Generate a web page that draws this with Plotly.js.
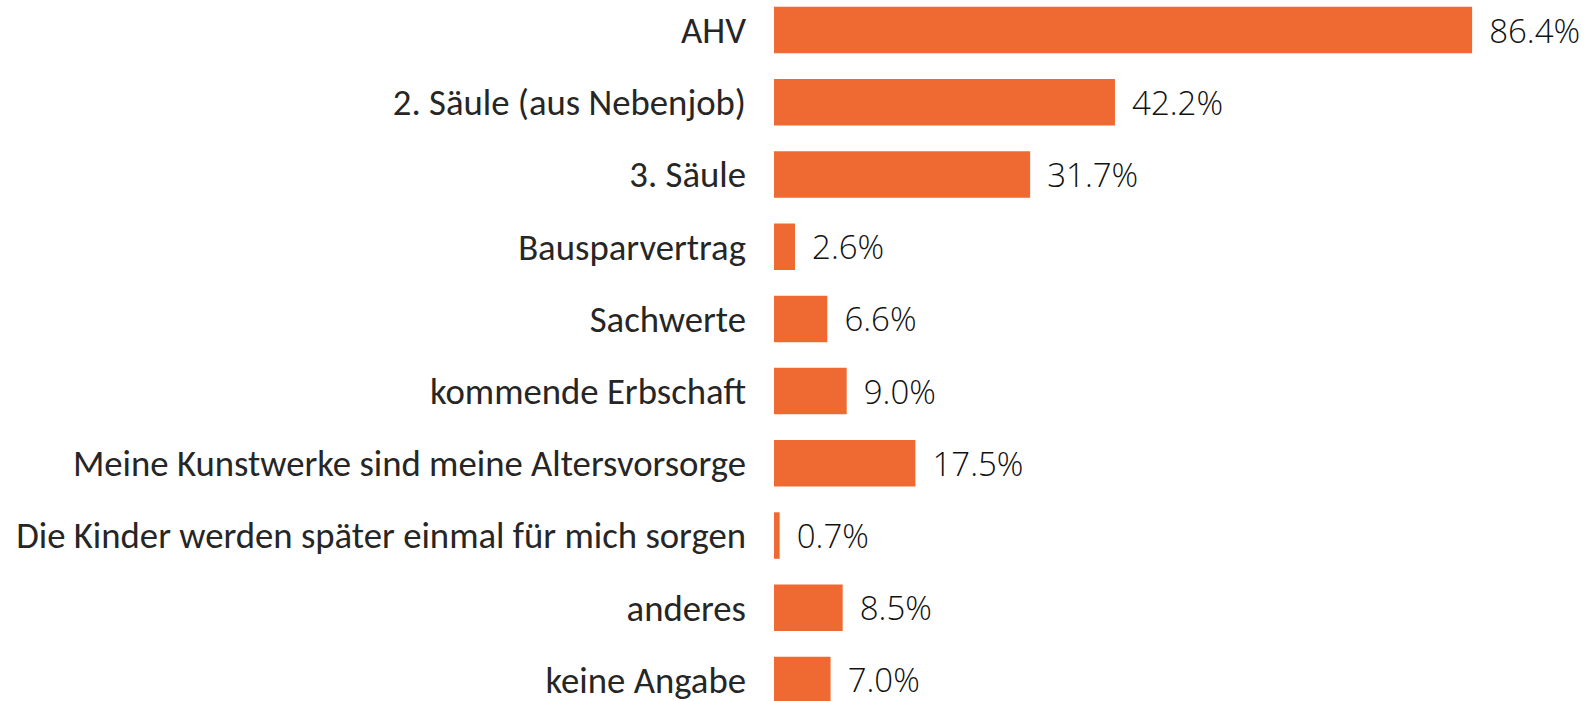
<!DOCTYPE html>
<html><head><meta charset="utf-8">
<script src="https://cdn.plot.ly/plotly-3.0.1.min.js"></script>
<style>html,body{margin:0;padding:0;background:#fff;}#chart{width:1586px;height:701px;}</style>
</head><body><div id="chart"></div>
<script>
const categories = [
  "AHV",
  "2. Säule (aus Nebenjob)",
  "3. Säule",
  "Bausparvertrag",
  "Sachwerte",
  "kommende Erbschaft",
  "Meine Kunstwerke sind meine Altersvorsorge",
  "Die Kinder werden später einmal für mich sorgen",
  "anderes",
  "keine Angabe"
];
const values = [86.4, 42.2, 31.7, 2.6, 6.6, 9.0, 17.5, 0.7, 8.5, 7.0];

function has(fam){
  const c=document.createElement('canvas').getContext('2d');
  const t='Die Kinder werden später einmal für mich sorgen';
  c.font='40px monospace'; const a=c.measureText(t).width;
  c.font='40px "'+fam+'", monospace'; const b=c.measureText(t).width;
  return Math.abs(a-b)>0.5;
}
function sizeFor(fam, weight, text, target){
  const c=document.createElement('canvas').getContext('2d');
  c.font=weight+' 100px "'+fam+'"';
  return 100*target/c.measureText(text).width;
}
const labelFam = has('Carlito') ? 'Carlito' : 'Open Sans';
const labelWeight = labelFam==='Carlito' ? 400 : 300;
const labelSize = sizeFor(labelFam, labelWeight, categories[7], 730);
const valFam = 'Open Sans';
const valSize = sizeFor(valFam, 300, '86.4%', 91);

const trace = {
  type:'bar', orientation:'h',
  y: categories, x: values,
  marker:{color:'#EF6A32'},
  text: values.map(v=>v.toFixed(1)+'%'),
  texttemplate:'\u00a0\u2006%{text}',
  textposition:'outside', cliponaxis:false,
  textfont:{family:valFam, size:valSize, color:'#111111', weight:300},
  hoverinfo:'none'
};
const layout = {
  width:1586, height:701,
  margin:{l:774, r:4, t:0, b:0, pad:0},
  paper_bgcolor:'#fff', plot_bgcolor:'#fff',
  showlegend:false,
  bargap:0.356,
  xaxis:{range:[0,100], visible:false, fixedrange:true},
  yaxis:{type:'category', range:[9.291,-0.4155], showgrid:false, zeroline:false, showline:false,
    ticks:'', ticklabelstandoff:27,
    tickfont:{family:labelFam, size:labelSize, color:'#262626', weight:labelWeight}},
};
Plotly.newPlot('chart',[trace],layout,{staticPlot:true});
</script></body></html>
